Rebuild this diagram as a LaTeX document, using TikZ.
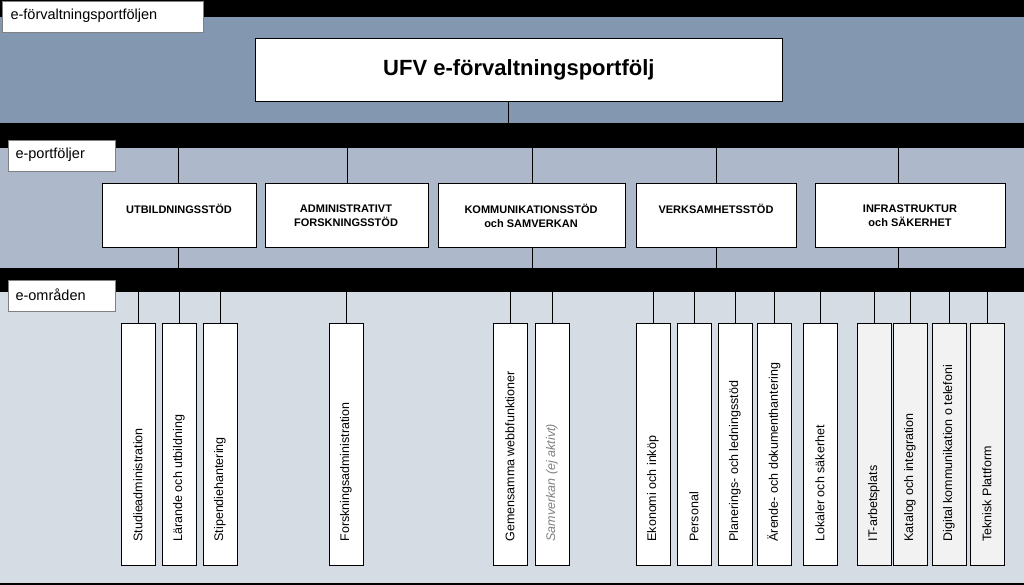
\documentclass[tikz,border=0pt]{standalone}
\usepackage{fontspec}
\setmainfont{Liberation Sans}
\definecolor{bandA}{HTML}{8497B0}
\definecolor{bandB}{HTML}{ADB9CA}
\definecolor{bandC}{HTML}{D6DCE4}
\definecolor{lgray}{HTML}{F2F2F2}
\begin{document}
\begin{tikzpicture}[x=1pt,y=-1pt,
 lbl/.style={draw=gray,fill=white,anchor=north west,inner sep=0pt},
 ltext/.style={anchor=west,font=\fontsize{14.5}{17}\selectfont},
 pbox/.style={draw,thick,fill=white,anchor=north west,inner sep=0pt},
 area/.style={draw,thick,fill=white,anchor=north west,inner sep=0pt,minimum width=34pt,minimum height=242pt},
 atext/.style={rotate=90,anchor=west,font=\fontsize{12.5}{14}\selectfont},
 ptext/.style={font=\bfseries\fontsize{11}{14}\selectfont,align=center,anchor=north}]
\useasboundingbox (0,0) rectangle (1024,585);
\fill[black] (0,0) rectangle (1024,585);
\fill[bandA] (0,17) rectangle (1024,123);
\fill[bandB] (0,148) rectangle (1024,268);
\fill[bandC] (0,292) rectangle (1024,583);
\node[lbl,minimum width=201pt,minimum height=31pt] (l1) at (2,1) {};
\node[ltext] at (7,16) {e-förvaltningsportföljen};
\node[lbl,minimum width=107pt,minimum height=31pt] (l2) at (8,140) {};
\node[ltext] at (12,155) {e-portföljer};
\node[lbl,minimum width=107pt,minimum height=31pt] (l3) at (8,280) {};
\node[ltext] at (12,295) {e-områden};
% title
\node[pbox,minimum width=527pt,minimum height=63pt,font=\bfseries\fontsize{22}{26}\selectfont] (top) at (255,38) {UFV e-förvaltningsportfölj};
\coordinate (b1) at (508,123);
\draw (508,101) -- (b1);
% portfolios
\foreach \n/\x/\w/\c in {u/102/154/178,a/265/163/347,k/438/187/532,v/636/160/716,i/815/190/898}{
  \node[pbox,minimum width=\w pt,minimum height=64pt] (\n) at (\x,183) {};
  \coordinate (\n t) at (\c,148);
  \coordinate (\n b) at (\c,268);
  \draw (\n t) -- (\c,183);
}
\draw (178,247) -- (ub);
\draw (532,247) -- (kb); \draw (716,247) -- (vb); \draw (898,247) -- (ib);
\node[ptext] at (179,201) {UTBILDNINGSSTÖD};
\node[ptext] at (346,201) {ADMINISTRATIVT\\FORSKNINGSSTÖD};
\node[ptext] at (531,201) {KOMMUNIKATIONSSTÖD\\och SAMVERKAN};
\node[ptext] at (716,201) {VERKSAMHETSSTÖD};
\node[ptext] at (910,201) {INFRASTRUKTUR\\och SÄKERHET};
% areas
\foreach \n/\x/\f/\t in {a1/121/white/Studieadministration,a2/162/white/Lärande och utbildning,a3/203/white/Stipendiehantering,a4/329/white/Forskningsadministration,a5/493/white/Gemensamma webbfunktioner,a6/535/white/{\textcolor{gray}{\itshape Samverkan (ej aktivt)}},a7/636/white/Ekonomi och inköp,a8/677/white/Personal,a9/718/white/Planerings- och ledningsstöd,a10/757/white/Ärende- och dokumenthantering,a11/803/white/Lokaler och säkerhet,a12/857/lgray/IT-arbetsplats,a13/893/lgray/Katalog och integration,a14/932/lgray/Digital kommunikation o telefoni,a15/970/lgray/Teknisk Plattform}{
  \pgfmathsetmacro\cx{\x+17}
  \node[area,fill=\f] (\n) at (\x,323) {};
  \coordinate (\n c) at (\cx,292);
  \draw (\n c) -- (\cx,323);
  \node[atext] at (\cx,545) {\t};
}
\end{tikzpicture}
\end{document}
